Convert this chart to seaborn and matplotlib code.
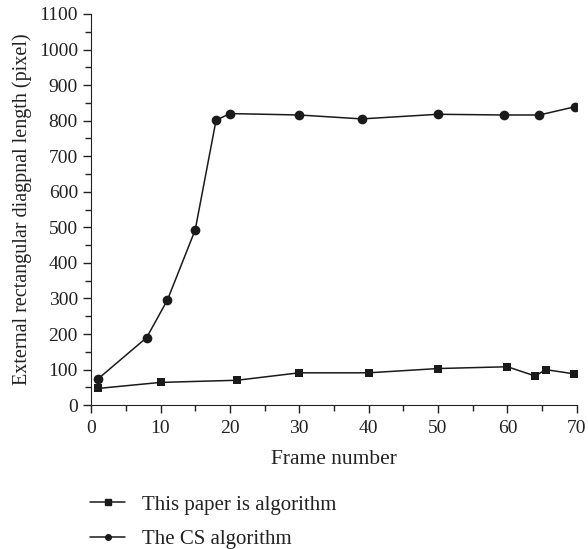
import pandas as pd
import matplotlib
matplotlib.use("Agg")
import matplotlib.pyplot as plt
import seaborn as sns
from matplotlib.ticker import MultipleLocator

# values
paper_frames = [1, 10, 21, 30, 40, 50, 60, 64, 65.5, 69.6]
paper_length = [47, 64, 70, 91, 91, 103, 108, 82, 100, 88]

cs_frames = [1, 8, 11, 15, 18, 20, 30, 39, 50, 59.5, 64.6, 69.7]
cs_length = [74, 190, 296, 493, 801, 820, 816, 805, 818, 816, 816, 839]

labels = ["This paper is algorithm", "The CS algorithm"]

paper_df = pd.DataFrame({"frame": paper_frames, "length": paper_length})
cs_df = pd.DataFrame({"frame": cs_frames, "length": cs_length})

sns.set_style("ticks")
plt.rcParams["font.family"] = ["Liberation Serif", "DejaVu Serif"]

fig = plt.figure(figsize=(5.88, 5.49), dpi=100)
ax = fig.add_axes([0.155, 0.262, 0.826, 0.7125])

# one call per series so the square and circle get their own sizes
sns.lineplot(data=paper_df, x="frame", y="length", color="#1a1a1a", marker="s",
             markersize=5.5, linewidth=1.1, markeredgewidth=0, sort=False, ax=ax)
sns.lineplot(data=cs_df, x="frame", y="length", color="#1a1a1a", marker="o",
             markersize=7, linewidth=1.1, markeredgewidth=0, sort=False, ax=ax)

ax.set_xlim(0, 70)
ax.set_ylim(0, 1100)
ax.xaxis.set_major_locator(MultipleLocator(10))
ax.xaxis.set_minor_locator(MultipleLocator(5))
ax.yaxis.set_major_locator(MultipleLocator(100))
ax.yaxis.set_minor_locator(MultipleLocator(50))
ax.tick_params(which="both", direction="out", color="#222222", width=1, labelsize=14,
               labelcolor="#222222")
ax.tick_params(which="major", length=6)
ax.tick_params(which="minor", length=4)
ax.tick_params(axis="x", which="major", pad=5)
for side in ["top", "right"]:
    ax.spines[side].set_visible(False)
for side in ["left", "bottom"]:
    ax.spines[side].set_color("#222222")
ax.set_xlabel("Frame number", fontsize=15.5, labelpad=9, color="#222222")
ax.set_ylabel("External rectangular diagpnal length (pixel)", fontsize=14.5, labelpad=5,
              color="#222222")

handles = [
    plt.Line2D([], [], color="#1a1a1a", marker="s", markersize=5, linewidth=1.1),
    plt.Line2D([], [], color="#1a1a1a", marker="o", markersize=4, linewidth=1.1),
]
leg = fig.legend(handles, labels, loc="upper left", bbox_to_anchor=(0.153, 0.098),
                 frameon=False, fontsize=15, handlelength=1.7, labelspacing=0.7,
                 borderaxespad=0, borderpad=0)
for t in leg.get_texts():
    t.set_color("#222222")

fig.savefig("out.png", dpi=100)
